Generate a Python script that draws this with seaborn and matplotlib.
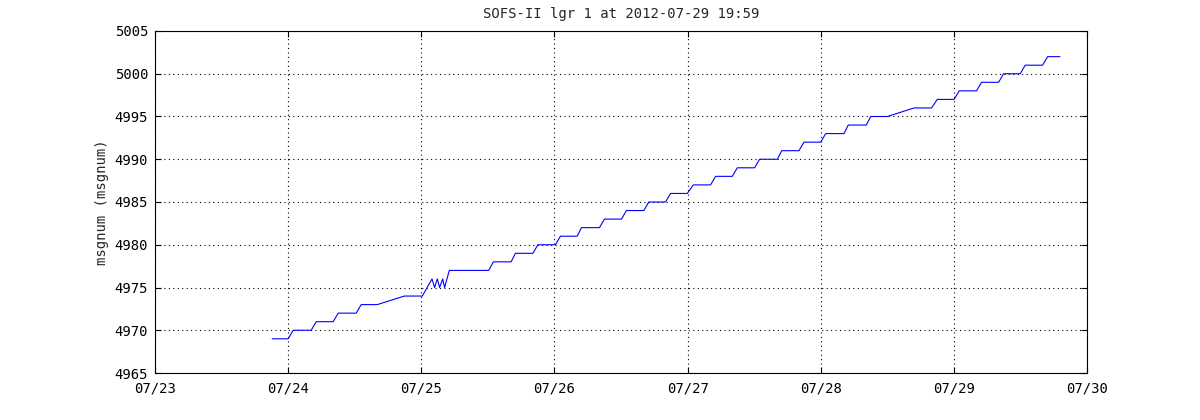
import matplotlib
matplotlib.use('Agg')
import matplotlib.pyplot as plt
import matplotlib.dates as mdates
import pandas as pd
import seaborn as sns

# message counter readings (time, msgnum)
times = [
    '2012-07-23 21:07', '2012-07-24 00:00', '2012-07-24 00:54', '2012-07-24 04:09',
    '2012-07-24 05:03', '2012-07-24 08:07', '2012-07-24 09:01', '2012-07-24 12:16',
    '2012-07-24 13:10', '2012-07-24 16:04', '2012-07-24 20:56', '2012-07-25 00:11',
    '2012-07-25 01:56', '2012-07-25 02:24', '2012-07-25 02:53', '2012-07-25 03:18',
    '2012-07-25 03:51', '2012-07-25 04:12', '2012-07-25 05:03', '2012-07-25 12:09',
    '2012-07-25 12:59', '2012-07-25 16:11', '2012-07-25 16:58', '2012-07-25 20:07',
    '2012-07-25 21:01', '2012-07-26 00:11', '2012-07-26 01:05', '2012-07-26 04:06',
    '2012-07-26 04:52', '2012-07-26 08:07', '2012-07-26 09:01', '2012-07-26 12:05',
    '2012-07-26 12:59', '2012-07-26 16:07', '2012-07-26 17:01', '2012-07-26 20:02',
    '2012-07-26 20:56', '2012-07-26 23:57', '2012-07-27 01:02', '2012-07-27 04:09',
    '2012-07-27 05:03', '2012-07-27 08:04', '2012-07-27 08:58', '2012-07-27 12:05',
    '2012-07-27 12:59', '2012-07-27 16:11', '2012-07-27 16:58', '2012-07-27 20:05',
    '2012-07-27 20:59', '2012-07-28 00:00', '2012-07-28 00:54', '2012-07-28 04:12',
    '2012-07-28 04:58', '2012-07-28 08:13', '2012-07-28 09:01', '2012-07-28 12:02',
    '2012-07-28 16:50', '2012-07-28 19:59', '2012-07-28 21:01', '2012-07-29 00:03',
    '2012-07-29 00:59', '2012-07-29 04:05', '2012-07-29 05:00', '2012-07-29 08:04',
    '2012-07-29 08:58', '2012-07-29 11:58', '2012-07-29 12:52', '2012-07-29 16:00',
    '2012-07-29 16:55', '2012-07-29 19:08',
]
msgnum = [
    4969, 4969, 4970, 4970, 4971, 4971, 4972, 4972, 4973, 4973, 4974, 4974,
    4976, 4975, 4976, 4975, 4976, 4975, 4977, 4977, 4978, 4978, 4979, 4979,
    4980, 4980, 4981, 4981, 4982, 4982, 4983, 4983, 4984, 4984, 4985, 4985,
    4986, 4986, 4987, 4987, 4988, 4988, 4989, 4989, 4990, 4990, 4991, 4991,
    4992, 4992, 4993, 4993, 4994, 4994, 4995, 4995, 4996, 4996, 4997, 4997,
    4998, 4998, 4999, 4999, 5000, 5000, 5001, 5001, 5002, 5002,
]
y_ticks = [4965, 4970, 4975, 4980, 4985, 4990, 4995, 5000, 5005]

df = pd.DataFrame({'time': pd.to_datetime(times), 'msgnum': msgnum})

sns.set_style('ticks')
plt.rcParams['font.family'] = ['DejaVu Sans Mono']
plt.rcParams['xtick.direction'] = 'in'
plt.rcParams['ytick.direction'] = 'in'

fig = plt.figure(figsize=(12, 4.2), dpi=100)
ax = fig.add_axes([0.1292, 0.1119, 0.7766, 0.8143])

sns.lineplot(data=df, x='time', y='msgnum', ax=ax, color='#0000ff',
             linewidth=0.8, estimator=None, sort=False)

ax.set_xlim(pd.Timestamp('2012-07-23'), pd.Timestamp('2012-07-30'))
ax.set_ylim(4965, 5005)
ax.set_yticks(y_ticks)
ax.xaxis.set_major_locator(mdates.DayLocator())
ax.xaxis.set_major_formatter(mdates.DateFormatter('%m/%d'))

ax.grid(True, color='black', linestyle=(0, (1, 3)), linewidth=0.8)
for s in ax.spines.values():
    s.set_visible(True)
    s.set_linewidth(0.8)
    s.set_color('black')
ax.tick_params(top=True, right=True, length=4, width=0.8, labelsize=10, colors='black')
ax.tick_params(axis='x', pad=6)
ax.tick_params(axis='y', pad=5)

ax.set_title('SOFS-II lgr 1 at 2012-07-29 19:59', fontsize=10, pad=9)
ax.set_xlabel('')
ax.set_ylabel('msgnum (msgnum)', fontsize=10)

fig.savefig('out.png', dpi=100)
